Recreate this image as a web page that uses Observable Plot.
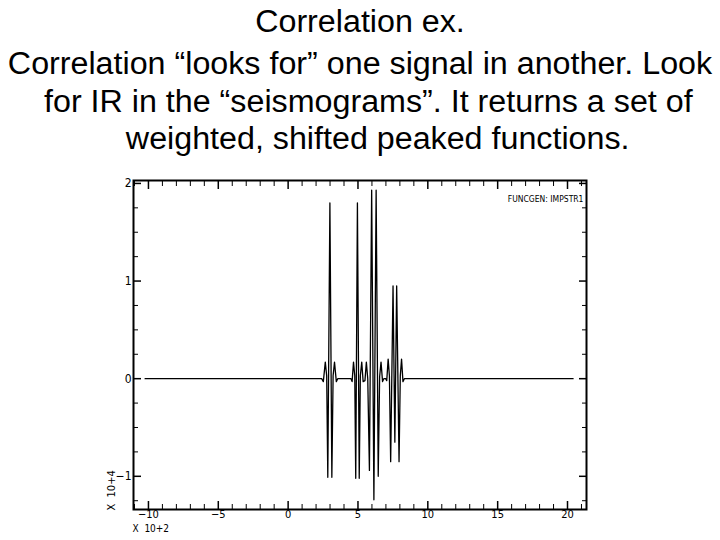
<!DOCTYPE html>
<html>
<head>
<meta charset="utf-8">
<script src="https://cdn.jsdelivr.net/npm/d3@7"></script>
<script src="https://cdn.jsdelivr.net/npm/@observablehq/plot@0.6"></script>
<style>
  html, body { margin: 0; padding: 0; background: #fff; }
  body { width: 720px; height: 540px; position: relative; overflow: hidden; }
  .tl { position: absolute; left: 0; width: 720px; text-align: center; font-family: "Liberation Sans", Arial, sans-serif; font-size: 31px; line-height: 28px; color: #000; white-space: nowrap; transform: scaleX(1.04); transform-origin: 50% 50%; }
  #chart { position: absolute; left: 0; top: 170px; }
</style>
</head>
<body>
<div class="tl" style="top:8px">Correlation ex.</div>
<div class="tl" style="top:50px">Correlation “looks for” one signal in another. Look</div>
<div class="tl" style="top:88px; padding-left:16px; width:704px">for IR in the “seismograms”. It returns a set of</div>
<div class="tl" style="top:125px; padding-left:34px; width:686px">weighted, shifted peaked functions.</div>
<div id="chart"></div>
<script>
// x in units of 10^2, y in units of 10^4
const xMajor = [-10, -5, 0, 5, 10, 15, 20];
const xMinor = [-11, -9, -8, -7, -6, -4, -3, -2, -1, 1, 2, 3, 4, 6, 7, 8, 9, 11, 12, 13, 14, 16, 17, 18, 19, 21];
const yMajor = [-1, 0, 1, 2];
const yMinor = [-1.25, -0.75, -0.5, -0.25, 0.25, 0.5, 0.75, 1.25, 1.5, 1.75];

const sigX = [
  -10.24, 2.40,
  2.52, 2.66, 2.76, 2.84, 2.99, 3.13, 3.22, 3.32, 3.45, 3.55,
  4.50, 4.58, 4.68, 4.77, 4.84, 4.96, 5.09, 5.17, 5.27, 5.37,
  5.50, 5.60, 5.70, 5.82, 5.98, 6.14, 6.30, 6.45, 6.55, 6.65, 6.76, 6.85,
  6.98, 7.06, 7.16, 7.25, 7.34, 7.51, 7.64, 7.77, 7.94, 8.03, 8.12, 8.22, 8.32,
  20.40
];
const sigY = [
  0, 0,
  -0.03, 0.17, 0.03, -1.01, 1.80, -1.01, 0.03, 0.17, -0.03, 0,
  0, -0.03, 0.17, 0.03, -1.02, 1.80, -1.02, 0.03, 0.17, -0.03,
  -0.02, 0.17, 0.00, -0.94, 1.93, -1.24, 1.93, -1.00, 0.02, 0.17, -0.03, 0,
  0, -0.02, 0.20, 0.03, -0.85, 0.95, -0.65, 0.95, -0.85, 0.03, 0.20, -0.03, 0,
  0
];
const noteText = ["FUNCGEN: IMPSTR1"];
const xUnit = ["X  10+2"];
const yUnit = ["X  10+4"];

const smallFont = "'Liberation Sans Narrow', 'DejaVu Sans Condensed', 'Arial Narrow', sans-serif";
const blank = () => "";

const chart = Plot.plot({
  width: 720,
  height: 370,
  marginTop: 10,
  marginBottom: 31,
  marginLeft: 133,
  marginRight: 134,
  style: { fontFamily: smallFont, fontSize: "11px", color: "black", background: "white" },
  x: { domain: [-11.07, 21.36], axis: null },
  y: { domain: [-1.34, 2.03], axis: null },
  marks: [
    Plot.line(sigY, { x: sigX, y: sigY, stroke: "black", strokeWidth: 1.3 }),
    // inward ticks on all four sides
    Plot.axisX(xMajor, { anchor: "bottom", tickSize: -8, tickFormat: blank, label: null, strokeWidth: 1.5 }),
    Plot.axisX(xMinor, { anchor: "bottom", tickSize: -5, tickFormat: blank, label: null }),
    Plot.axisX(xMajor, { anchor: "top", tickSize: -8, tickFormat: blank, label: null, strokeWidth: 1.5 }),
    Plot.axisX(xMinor, { anchor: "top", tickSize: -5, tickFormat: blank, label: null }),
    Plot.axisY(yMajor, { anchor: "left", tickSize: -8, tickFormat: blank, label: null, strokeWidth: 1.5 }),
    Plot.axisY(yMinor, { anchor: "left", tickSize: -5, tickFormat: blank, label: null }),
    Plot.axisY(yMajor, { anchor: "right", tickSize: -8, tickFormat: blank, label: null, strokeWidth: 1.5 }),
    Plot.axisY(yMinor, { anchor: "right", tickSize: -5, tickFormat: blank, label: null }),
    // tick labels
    Plot.axisX(xMajor, { anchor: "bottom", tickSize: 0, tickPadding: 1, tickFormat: "d", label: null, fontSize: 11 }),
    Plot.axisY(yMajor, { anchor: "left", tickSize: 0, tickPadding: 2, tickFormat: "d", label: null, fontSize: 12 }),
    Plot.frame({ stroke: "black", strokeWidth: 2 }),
    Plot.text(noteText, { text: d => d, frameAnchor: "top-right", textAnchor: "end", dx: -3, dy: 15, fontSize: 8.5 }),
    Plot.text(xUnit, { text: d => d, frameAnchor: "bottom-left", textAnchor: "start", dx: -1, dy: 22, fontSize: 10 }),
    Plot.text(yUnit, { text: d => d, frameAnchor: "bottom-left", textAnchor: "start", rotate: -90, dx: -19, dy: 1, fontSize: 11 })
  ]
});
document.getElementById("chart").appendChild(chart);
</script>
</body>
</html>
